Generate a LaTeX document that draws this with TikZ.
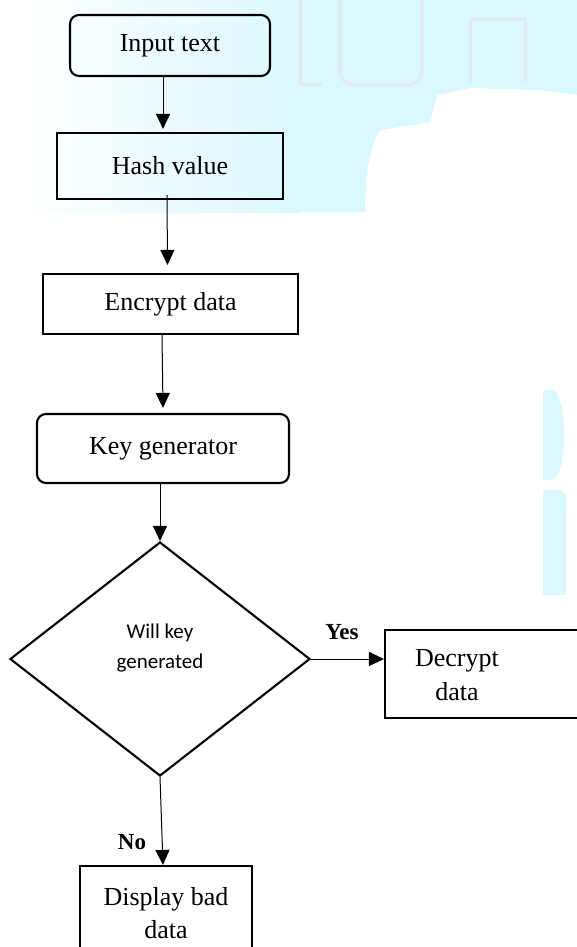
\documentclass[tikz,border=0pt]{standalone}
\usepackage{fontspec}
\setmainfont{Liberation Serif}
\newfontfamily\calib{Carlito}
\usetikzlibrary{shapes.geometric,arrows.meta}
\definecolor{wm}{RGB}{218,248,255}
\definecolor{wmline}{RGB}{226,234,240}
\begin{document}
\begin{tikzpicture}[x=1pt,y=-1pt,
  box/.style={draw,line width=2.1pt,inner sep=0pt,font=\fontsize{26}{33}\selectfont,align=center},
  rbox/.style={box,rounded corners=9pt},
  arr/.style={line width=1pt,-{Triangle[length=15pt,width=14pt]}},
  lab/.style={font=\fontsize{23}{27}\selectfont\bfseries}]
\useasboundingbox (0,0) rectangle (577,947);
\clip (0,0) rectangle (577,947);
% watermark
\shade[left color=white,right color=wm] (20,0) rectangle (300,212);
\fill[wm] (300,0) -- (577,0) -- (577,95) -- (540,90) -- (470,88) -- (437,95) -- (430,122) -- (380,130)
  .. controls (368,150) and (365,180) .. (365,212) -- (300,212) -- cycle;
\fill[wm] (543,390) -- (552,390) .. controls (568,392) and (568,478) .. (552,480) -- (543,480) -- cycle;
\fill[wm] (543,490) -- (560,490) .. controls (567,492) and (567,500) .. (566,510) -- (566,595) -- (543,595) -- cycle;
\draw[wmline,line width=3pt] (300,0) -- (300,85) -- (322,85);
\draw[wmline,line width=3pt,rounded corners=14pt] (340,0) -- (340,85) -- (422,85) -- (422,0);
\draw[wmline,line width=3pt] (470,82) -- (470,20) -- (525,20) -- (525,82);
% nodes
\node[rbox,minimum width=200pt,minimum height=61pt] (in) at (170,45.5) {Input text};
\node[box,minimum width=226pt,minimum height=66pt] (hash) at (170,166) {Hash value};
\node[box,minimum width=255pt,minimum height=60pt] (enc) at (170.5,304) {Encrypt data};
\node[rbox,minimum width=252pt,minimum height=69pt] (key) at (163,448.5) {Key generator};
\node[draw,diamond,line width=2.1pt,inner sep=0pt,minimum width=300pt,minimum height=234pt] (dia) at (160,659) {};
\node[font=\calib\fontsize{21}{30}\selectfont,align=center] (diatext) at (160,648) {Will key\\generated};
\node[box,minimum width=215pt,minimum height=88pt] (dec) at (492.5,674) {};
\node[font=\fontsize{26}{34}\selectfont,align=center] (dectext) at (457,675) {Decrypt\\data};
\node[box,minimum width=172pt,minimum height=94pt] (bad) at (166,913) {Display bad\\data};
% connectors
\draw[arr] ([xshift=-7pt]in.south) -- ([xshift=-7pt,yshift=3pt]hash.north);
\draw[arr] ([xshift=-3pt,yshift=5pt]hash.south) -- ([xshift=-3pt,yshift=8pt]enc.north);
\draw[arr] ([xshift=-8.5pt]enc.south) -- ([xshift=0pt,yshift=5pt]key.north);
\draw[arr] ([xshift=-3pt]key.south) -- (dia.north);
\draw[arr] (dia.east) -- ([yshift=15pt]dec.west);
\draw[arr] (dia.south) -- ([xshift=-3pt]bad.north);
\node[lab] (yes) at (342,632) {Yes};
\node[lab] (no) at (132,842) {No};
\end{tikzpicture}
\end{document}
